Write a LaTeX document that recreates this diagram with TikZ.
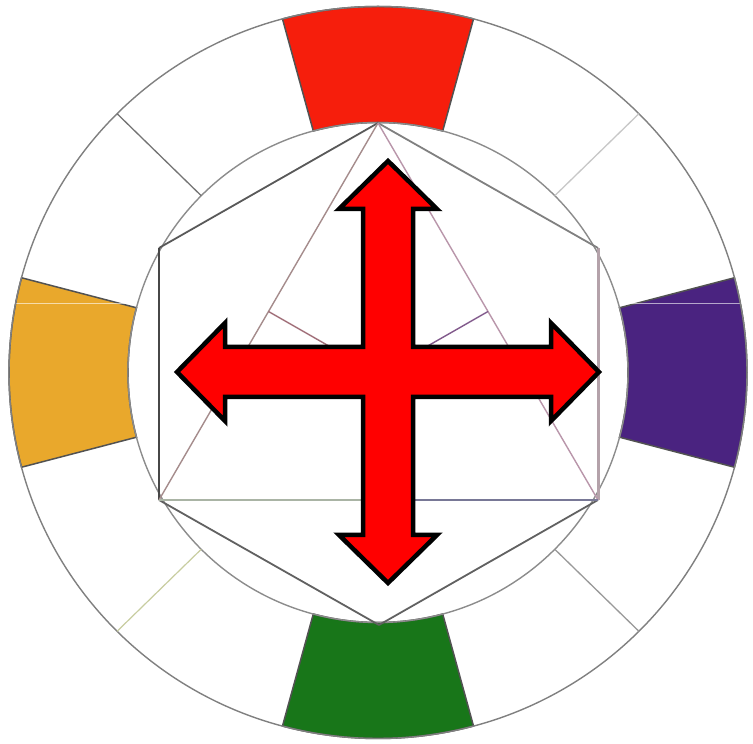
\documentclass[tikz,border=0pt]{standalone}
\usetikzlibrary{calc}
\definecolor{segred}{HTML}{F61E0C}
\definecolor{segorange}{HTML}{E9A82C}
\definecolor{segpurple}{HTML}{4A2380}
\definecolor{seggreen}{HTML}{187619}
\definecolor{arrowred}{HTML}{FF0000}
\tikzset{
  segline/.style={draw=black!68, line width=1.5pt},
  ringline/.style={draw=black!50, line width=1.4pt},
  hexline/.style={line width=1.8pt},
  triline/.style={line width=1.4pt},
  bigarrow/.style={fill=arrowred, draw=black, line width=4.5pt, line join=miter, miter limit=10}
}
\begin{document}
\begin{tikzpicture}[x=1pt,y=1pt]
\useasboundingbox (0,0) rectangle (753,744);
\fill[white] (0,0) rectangle (753,744);
\coordinate (C) at (378,371.5);
% coloured segments
\foreach \a/\col in {90/segred,180/segorange,0/segpurple,270/seggreen}{
  \filldraw[segline, fill=\col]
    ([shift={(C)}]{\a-15}:369 and 366) arc[start angle={\a-15}, end angle={\a+15}, x radius=369, y radius=366]
    -- ([shift={(C)}]{\a+15}:250) arc[start angle={\a+15}, end angle={\a-15}, radius=250] -- cycle;
}
% faint seam across side segments
\draw[white, opacity=0.6, line width=0.8pt] (12,441) -- (131,441);
\draw[white, opacity=0.6, line width=0.8pt] (628,441) -- (748,441);
% rings
\draw[ringline] (C) ellipse [x radius=369, y radius=366];
\draw[ringline, draw=black!45] (C) circle [radius=250];
% radial dividers
\draw[line width=1.3pt, draw=black!55] ([shift={(C)}]135:250) -- ([shift={(C)}]135:369 and 366);
\draw[line width=1.3pt, draw=black!22] ([shift={(C)}]45:250) -- ([shift={(C)}]45:369 and 366);
\draw[line width=1.2pt, draw={rgb,255:red,200;green,205;blue,160}] ([shift={(C)}]225:250) -- ([shift={(C)}]225:369 and 366);
\draw[line width=1.3pt, draw=black!40] ([shift={(C)}]315:250) -- ([shift={(C)}]315:369 and 366);
% hexagon
\coordinate (T) at (378,621);
\coordinate (UL) at (159,496);
\coordinate (LL) at (159,244);
\coordinate (B) at (379,119);
\coordinate (LR) at (598,244);
\coordinate (UR) at (598,496);
\draw[hexline, draw=black!65] (T) -- (UL);
\draw[hexline, draw=black!72] (UL) -- (LL);
\draw[hexline, draw=black!62] (LL) -- (B);
\draw[hexline, draw=black!62] (B) -- (LR);
\draw[line width=3pt, draw={rgb,255:red,180;green,162;blue,170}] (LR) -- (UR);
\draw[hexline, draw=black!50] (UR) -- (T);
% triangle
\draw[triline, draw={rgb,255:red,165;green,140;blue,140}] (T) -- (LL);
\draw[triline, draw={rgb,255:red,185;green,150;blue,170}] (T) -- (LR);
\coordinate (BM) at (378,244);
\draw[line width=2pt, draw={rgb,255:red,170;green,180;blue,165}] (LL) -- (BM);
\draw[line width=2pt, draw={rgb,255:red,120;green,120;blue,150}] (BM) -- (LR);
% lines from side midpoints to centre
\coordinate (M1) at ($(T)!0.5!(LL)$);
\coordinate (M2) at ($(T)!0.5!(LR)$);
\coordinate (G) at (378.3,369.7);
\draw[triline, draw={rgb,255:red,160;green,110;blue,120}] (M1) -- (G);
\draw[triline, draw={rgb,255:red,130;green,90;blue,140}] (M2) -- (G);
% four-headed arrow
\begin{scope}[shift={(388,372)}]
\def\L{211}\def\hb{163}\def\hw{49}\def\sw{25}
\filldraw[bigarrow]
  (0,\L) -- (\hw,\hb) -- (\sw,\hb) -- (\sw,\sw) -- (\hb,\sw) -- (\hb,\hw) -- (\L,0)
  -- (\hb,-\hw) -- (\hb,-\sw) -- (\sw,-\sw) -- (\sw,-\hb) -- (\hw,-\hb) -- (0,-\L)
  -- (-\hw,-\hb) -- (-\sw,-\hb) -- (-\sw,-\sw) -- (-\hb,-\sw) -- (-\hb,-\hw) -- (-\L,0)
  -- (-\hb,\hw) -- (-\hb,\sw) -- (-\sw,\sw) -- (-\sw,\hb) -- (-\hw,\hb) -- cycle;
\end{scope}
\end{tikzpicture}
\end{document}
